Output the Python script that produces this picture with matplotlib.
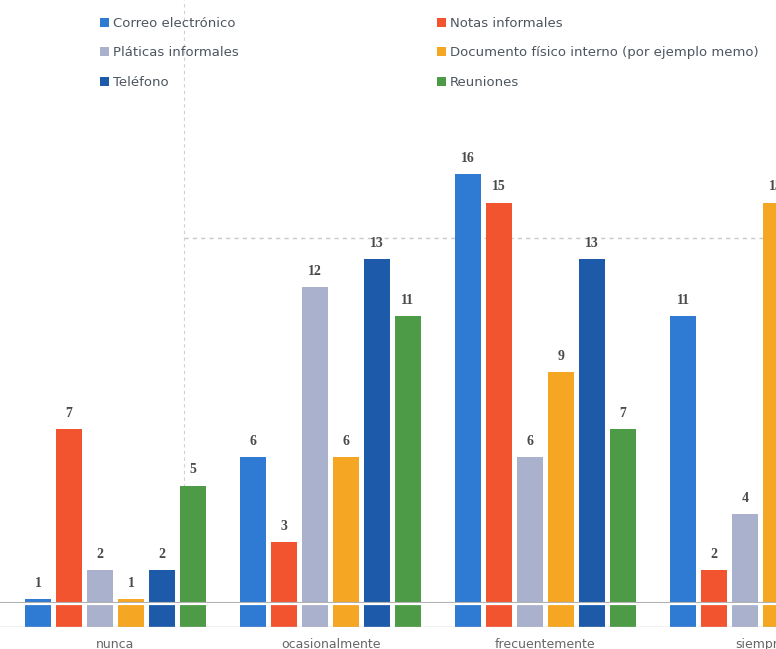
import matplotlib.pyplot as plt
import numpy as np

# datos
categorias = ["nunca", "ocasionalmente", "frecuentemente", "siempre"]
series = ["Correo electrónico", "Notas informales", "Pláticas informales",
          "Documento físico interno (por ejemplo memo)", "Teléfono", "Reuniones"]
correo = [1, 6, 16, 11]
notas = [7, 3, 15, 2]
platicas = [2, 12, 6, 4]
documento = [1, 6, 9, 15]
telefono = [2, 13, 13, 10]   # ultimo valor fuera del recorte (estimado)
reuniones = [5, 11, 7, 9]    # ultimo valor fuera del recorte (estimado)
colores = ["#2F7BD3", "#F25430", "#A9B1CC", "#F5A623", "#1D5BAA", "#4E9B47"]

valores = [correo, notas, platicas, documento, telefono, reuniones]

fig = plt.figure(figsize=(7.76, 6.49), dpi=100)
ax = fig.add_axes([0, 22 / 649, 1, 627 / 649])

x = np.arange(len(categorias))
paso = 0.144
ancho = 0.121
barras = []
for i, (nombre, vals, c) in enumerate(zip(series, valores, colores)):
    b = ax.bar(x + (i - 2.5) * paso, vals, ancho, color=c, label=nombre, zorder=2)
    barras.append(b)
    for xi, v in zip(x + (i - 2.5) * paso, vals):
        ax.annotate(str(v), (xi, v), xytext=(0, 6.5), textcoords="offset points",
                    ha="center", va="bottom", fontsize=10, fontweight="bold",
                    color="#4a4a4a", family="Liberation Serif")

ax.set_xlim(-115.5 / 215, (776 - 115.5) / 215)
ax.set_ylim(0, 627 / 28.3)

# linea de cuadricula y pliegue del escaneo
ax.plot([0.32, 4], [13.75, 13.75], ls=(0, (3, 3)), color="#c8c8c8", lw=1, zorder=1)
ax.axvline(0.32, ls=(0, (3, 3)), color="#d0d0d0", lw=0.8, zorder=1)
ax.axhline(0, color="#c0c0c0", lw=1, zorder=3)
ax.axhline(0.88, color="#a8a8a8", lw=0.8, zorder=3)
ax.axhline(0.80, color="white", lw=1.6, zorder=3)

for s in ax.spines.values():
    s.set_visible(False)
ax.set_yticks([])
ax.set_xticks(x)
ax.set_xticklabels(categorias, fontsize=9, color="#666666")
ax.tick_params(axis="x", length=0, pad=8)

# leyenda (orden por columnas)
orden = [0, 2, 4, 1, 3, 5]
leg = fig.legend([barras[k] for k in orden], [series[k] for k in orden],
                 loc="upper left", bbox_to_anchor=(88 / 776, 1 - 5 / 649),
                 ncol=2, frameon=False, fontsize=9.5, handlelength=0.7,
                 handleheight=0.7, handletextpad=0.3, labelspacing=1.25,
                 columnspacing=15)
for t in leg.get_texts():
    t.set_color("#4d5560")

fig.savefig("out.png", dpi=100)
